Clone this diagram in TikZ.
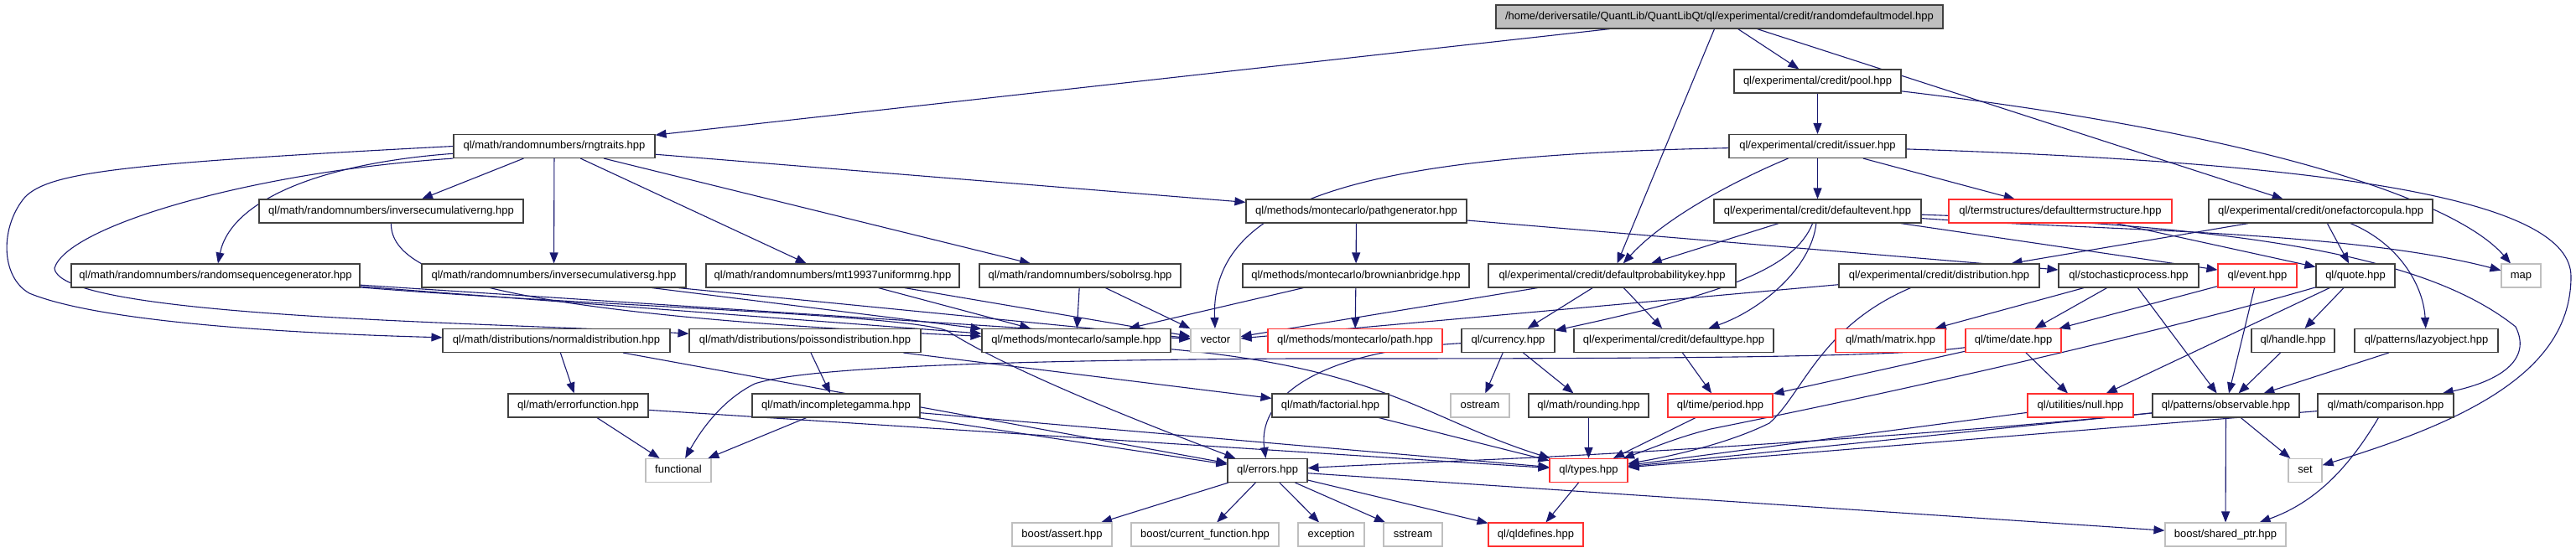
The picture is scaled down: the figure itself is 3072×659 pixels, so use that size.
\documentclass[tikz,border=0pt]{standalone}
\usepackage{fontspec}
\setmainfont{Liberation Sans}
\usetikzlibrary{arrows.meta}
\definecolor{edgec}{HTML}{191970}
\definecolor{grayb}{HTML}{BFBFBF}
\definecolor{redb}{HTML}{FF3030}
\definecolor{boxb}{HTML}{404040}
\definecolor{rootf}{HTML}{BFBFBF}
\pgfdeclarelayer{bg}
\pgfsetlayers{bg,main}
\begin{document}
\begin{tikzpicture}[x=1pt,y=-1pt,
  box/.style={draw=boxb, fill=white, line width=1.1pt, rectangle, minimum height=28pt, inner sep=0pt,
    font=\fontsize{13}{15}\selectfont, text height=9.5pt, text depth=3pt},
  redbox/.style={box, draw=redb},
  graybox/.style={box, draw=grayb},
  dep/.style={draw=edgec, line width=1.1pt, -{Triangle[length=13pt,width=10pt]}}]
\useasboundingbox (0,0) rectangle (3072,659);
% row 0-2
\node[box, fill=rootf, minimum width=533pt] (root) at (2050.5,20) {/home/deriversatile/QuantLib/QuantLibQt/ql/experimental/credit/randomdefaultmodel.hpp};
\node[box, minimum width=199pt] (pool) at (2167.5,97) {ql/experimental/credit/pool.hpp};
\node[box, minimum width=240pt] (rngtraits) at (661,174.5) {ql/math/randomnumbers/rngtraits.hpp};
\node[box, minimum width=211pt] (issuer) at (2167.5,174.5) {ql/experimental/credit/issuer.hpp};
% row 3
\node[box, minimum width=315pt] (icrng) at (466.5,252) {ql/math/randomnumbers/inversecumulativerng.hpp};
\node[box, minimum width=263pt] (pathgen) at (1617.5,252) {ql/methods/montecarlo/pathgenerator.hpp};
\node[box, minimum width=247pt] (defevent) at (2167.5,252) {ql/experimental/credit/defaultevent.hpp};
\node[redbox, minimum width=266pt] (defts) at (2457,252) {ql/termstructures/defaulttermstructure.hpp};
\node[box, minimum width=267pt] (ofc) at (2767.5,252) {ql/experimental/credit/onefactorcopula.hpp};
% row 4
\node[box, minimum width=344pt] (rsg) at (257,329) {ql/math/randomnumbers/randomsequencegenerator.hpp};
\node[box, minimum width=315pt] (icrsg) at (660.5,329) {ql/math/randomnumbers/inversecumulativersg.hpp};
\node[box, minimum width=302pt] (mt) at (993,329) {ql/math/randomnumbers/mt19937uniformrng.hpp};
\node[box, minimum width=240pt] (sobol) at (1288,329) {ql/math/randomnumbers/sobolrsg.hpp};
\node[box, minimum width=270pt] (bb) at (1617,329) {ql/methods/montecarlo/brownianbridge.hpp};
\node[box, minimum width=295pt] (dpk) at (1922.5,329) {ql/experimental/credit/defaultprobabilitykey.hpp};
\node[box, minimum width=239pt] (dist) at (2312.5,329) {ql/experimental/credit/distribution.hpp};
\node[box, minimum width=167pt] (sp) at (2538.5,329) {ql/stochasticprocess.hpp};
\node[redbox, minimum width=94pt] (event) at (2692,329) {ql/event.hpp};
\node[box, minimum width=94pt] (quote) at (2809,329) {ql/quote.hpp};
\node[graybox, minimum width=47pt] (map) at (3006.5,329) {map};
% row 5
\node[box, minimum width=271pt] (normal) at (663.5,406.5) {ql/math/distributions/normaldistribution.hpp};
\node[box, minimum width=276pt] (poisson) at (960,406.5) {ql/math/distributions/poissondistribution.hpp};
\node[box, minimum width=225pt] (sample) at (1283.5,406.5) {ql/methods/montecarlo/sample.hpp};
\node[graybox, minimum width=59pt] (vector) at (1449.5,406.5) {vector};
\node[redbox, minimum width=208pt] (path) at (1616,406.5) {ql/methods/montecarlo/path.hpp};
\node[box, minimum width=111pt] (currency) at (1798.5,406.5) {ql/currency.hpp};
\node[box, minimum width=238pt] (deftype) at (1996,406.5) {ql/experimental/credit/defaulttype.hpp};
\node[redbox, minimum width=131pt] (matrix) at (2254.5,406.5) {ql/math/matrix.hpp};
\node[redbox, minimum width=114pt] (date) at (2401,406.5) {ql/time/date.hpp};
\node[box, minimum width=99pt] (handle) at (2734.5,406.5) {ql/handle.hpp};
\node[box, minimum width=171pt] (lazy) at (2893.5,406.5) {ql/patterns/lazyobject.hpp};
% row 6
\node[box, minimum width=167pt] (erf) at (689.5,484) {ql/math/errorfunction.hpp};
\node[box, minimum width=200pt] (igamma) at (997,484) {ql/math/incompletegamma.hpp};
\node[box, minimum width=139pt] (factorial) at (1586.5,484) {ql/math/factorial.hpp};
\node[graybox, minimum width=70pt] (ostream) at (1765,484) {ostream};
\node[box, minimum width=143pt] (rounding) at (1894.5,484) {ql/math/rounding.hpp};
\node[redbox, minimum width=125pt] (period) at (2051.5,484) {ql/time/period.hpp};
\node[redbox, minimum width=126pt] (null) at (2481,484) {ql/utilities/null.hpp};
\node[box, minimum width=175pt] (observable) at (2654.5,484) {ql/patterns/observable.hpp};
\node[box, minimum width=162pt] (comparison) at (2845,484) {ql/math/comparison.hpp};
% row 7
\node[graybox, minimum width=78pt] (functional) at (809,561.5) {functional};
\node[box, minimum width=95pt] (errors) at (1511.5,561.5) {ql/errors.hpp};
\node[redbox, minimum width=93pt] (types) at (1894.5,561.5) {ql/types.hpp};
\node[graybox, minimum width=40pt] (set) at (2749,561.5) {set};
% row 8
\node[graybox, minimum width=119pt] (assert) at (1266.5,638) {boost/assert.hpp};
\node[graybox, minimum width=176pt] (curfun) at (1437,638) {boost/current\_function.hpp};
\node[graybox, minimum width=79pt] (exception) at (1587.5,638) {exception};
\node[graybox, minimum width=70pt] (sstream) at (1685,638) {sstream};
\node[redbox, minimum width=113pt] (qldefines) at (1831.5,638) {ql/qldefines.hpp};
\node[graybox, minimum width=144pt] (sharedptr) at (2654,638) {boost/shared\_ptr.hpp};

\begin{pgfonlayer}{bg}
% edges from root
\draw[dep] (root) -- (rngtraits);
\draw[dep] (root) -- (pool);
\draw[dep] (root) -- (dpk);
\draw[dep] (root) -- (ofc);
% pool
\draw[dep] (pool) -- (issuer);
\draw[dep] (pool) .. controls (2700,160) and (2930,240) .. (map);
% issuer
\draw[dep] (issuer) .. controls (1650,185) and (1443,230) .. (vector);
\draw[dep] (issuer) -- (defevent);
\draw[dep] (issuer) -- (defts);
\draw[dep] (issuer) .. controls (2070,215) and (1985,260) .. (dpk);
\draw[dep] (issuer) .. controls (2800,195) and (3066,240) .. (3066,330) .. controls (3066,440) and (2950,500) .. (set);
% rngtraits
\draw[dep] (rngtraits) .. controls (380,195) and (275,240) .. (rsg);
\draw[dep] (rngtraits) -- (icrng);
\draw[dep] (rngtraits) -- (icrsg);
\draw[dep] (rngtraits) -- (mt);
\draw[dep] (rngtraits) -- (sobol);
\draw[dep] (rngtraits) -- (pathgen);
\draw[dep] (rngtraits.west) .. controls (150,195) and (60,205) .. (30,235) .. controls (0,270) and (0,330) .. (35,350) .. controls (120,385) and (350,398) .. (normal);
\draw[dep] (rngtraits.south west) .. controls (300,205) and (80,270) .. (65,320) .. controls (70,380) and (600,385) .. (poisson);
% random number generators
\draw[dep] (rsg) -- (sample);
\draw[dep] (rsg) -- (vector);
\draw[dep] (rsg) .. controls (700,365) and (1080,375) .. (1130,395) .. controls (1200,440) and (1350,500) .. (errors);
\draw[dep] (icrng) .. controls (466,330) and (600,375) .. (sample);
\draw[dep] (icrsg) -- (sample);
\draw[dep] (icrsg) -- (vector);
\draw[dep] (mt) -- (sample);
\draw[dep] (mt) -- (vector);
\draw[dep] (sobol) -- (sample);
\draw[dep] (sobol) -- (vector);
% montecarlo
\draw[dep] (pathgen) -- (bb);
\draw[dep] (pathgen) -- (sp);
\draw[dep] (bb) -- (sample);
\draw[dep] (bb) -- (path);
\draw[dep] (sample) .. controls (1650,440) and (1700,500) .. (types);
% credit
\draw[dep] (dpk) -- (currency);
\draw[dep] (dpk) -- (deftype);
\draw[dep] (dpk) -- (vector);
\draw[dep] (defevent) -- (dpk);
\draw[dep] (defevent) .. controls (2140,320) and (2060,350) .. (currency);
\draw[dep] (defevent) .. controls (2160,320) and (2100,370) .. (deftype);
\draw[dep] (defevent) -- (event);
\draw[dep] (defevent) .. controls (2500,275) and (2800,275) .. (map);
\draw[dep] (defevent) .. controls (2700,270) and (2900,310) .. (3000,390) .. controls (3020,430) and (2980,455) .. (comparison);
\draw[dep] (defts) -- (quote);
\draw[dep] (ofc) -- (dist);
\draw[dep] (ofc) -- (quote);
\draw[dep] (ofc) .. controls (2860,290) and (2890,340) .. (lazy);
\draw[dep] (dist) -- (vector);
\draw[dep] (dist) .. controls (2170,390) and (2150,470) .. (2110,505) .. controls (2060,530) and (1990,545) .. (types);
% processes
\draw[dep] (sp) -- (matrix);
\draw[dep] (sp) -- (date);
\draw[dep] (sp) -- (observable);
\draw[dep] (event) -- (date);
\draw[dep] (event) -- (observable);
\draw[dep] (quote) -- (handle);
\draw[dep] (quote) -- (null);
\draw[dep] (quote) .. controls (2600,390) and (2300,460) .. (2040,512) .. controls (2000,522) and (1970,535) .. (types);
\draw[dep] (date) -- (period);
\draw[dep] (date) -- (null);
\draw[dep] (date) .. controls (2250,428) and (1900,428) .. (1540,428) .. controls (1200,430) and (960,438) .. (900,458) .. controls (860,478) and (835,515) .. (functional);
\draw[dep] (deftype) -- (period);
\draw[dep] (period) -- (types);
\draw[dep] (null) -- (types);
\draw[dep] (handle) -- (observable);
\draw[dep] (lazy) -- (observable);
\draw[dep] (observable) -- (set);
\draw[dep] (observable) -- (sharedptr);
\draw[dep] (observable) -- (types);
\draw[dep] (observable) .. controls (2300,520) and (1950,540) .. (1850,545) .. controls (1750,550) and (1620,555) .. (errors);
\draw[dep] (comparison) -- (types);
\draw[dep] (comparison) .. controls (2800,560) and (2760,600) .. (sharedptr);
% math
\draw[dep] (currency) -- (ostream);
\draw[dep] (currency) -- (rounding);
\draw[dep] (currency) .. controls (1560,420) and (1500,480) .. (errors);
\draw[dep] (rounding) -- (types);
\draw[dep] (normal) -- (erf);
\draw[dep] (normal) -- (errors);
\draw[dep] (erf) -- (functional);
\draw[dep] (erf) -- (types);
\draw[dep] (poisson) -- (igamma);
\draw[dep] (poisson) -- (factorial);
\draw[dep] (igamma) -- (functional);
\draw[dep] (igamma) -- (errors);
\draw[dep] (igamma) -- (types);
\draw[dep] (factorial) -- (types);
% errors / types
\draw[dep] (errors) -- (assert);
\draw[dep] (errors) -- (curfun);
\draw[dep] (errors) -- (exception);
\draw[dep] (errors) -- (sstream);
\draw[dep] (errors) -- (qldefines);
\draw[dep] (errors) -- (sharedptr);
\draw[dep] (types) -- (qldefines);
\end{pgfonlayer}
\end{tikzpicture}
\end{document}
